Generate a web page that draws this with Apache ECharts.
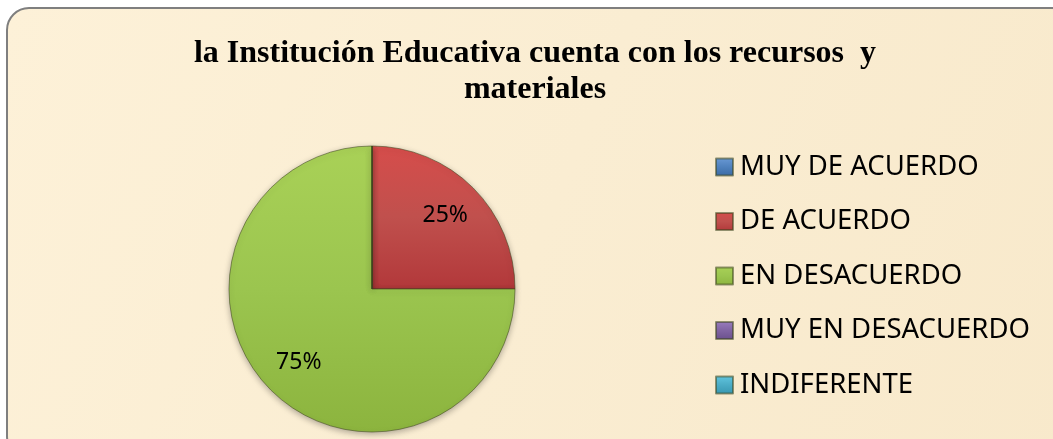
<!DOCTYPE html>
<html>
<head>
<meta charset="utf-8">
<script src="https://cdn.jsdelivr.net/npm/echarts@6/dist/echarts.min.js"></script>
<style>
  html, body { margin: 0; padding: 0; background: #fff; }
  #main { width: 1053px; height: 439px; }
</style>
</head>
<body>
<div id="main"></div>
<script>
var titleText = 'la Institución Educativa cuenta con los recursos  y\nmateriales';
var categories = ['MUY DE ACUERDO', 'DE ACUERDO', 'EN DESACUERDO', 'MUY EN DESACUERDO', 'INDIFERENTE'];
var values = [0, 25, 75, 0, 0];
var colors = ['#4f81bd', '#c0504d', '#9bc54f', '#8064a2', '#4bacc6'];
var lightColors = ['#6a9ad6', '#d64d4b', '#a9d157', '#9a7dbf', '#62c6e0'];
var darkColors = ['#3a6aa3', '#b2383a', '#8cb43e', '#6a4f8c', '#3796b0'];

var myChart = echarts.init(document.getElementById('main'));

function sliceColor(i) {
  return new echarts.graphic.LinearGradient(0, 0, 0, 1, [
    { offset: 0, color: lightColors[i] },
    { offset: 0.5, color: colors[i] },
    { offset: 1, color: darkColors[i] }
  ]);
}

var pieData = categories.map(function (name, i) {
  return { name: name, value: values[i], itemStyle: { color: sliceColor(i) } };
});

var labelData = categories.map(function (name, i) {
  return { name: name, value: values[i] };
});

var option = {
  backgroundColor: '#ffffff',
  animation: false,
  graphic: [
    {
      type: 'rect',
      z: -10,
      shape: { x: 7, y: 8, width: 1070, height: 450, r: 22 },
      style: {
        fill: new echarts.graphic.LinearGradient(0, 0, 1, 1, [
          { offset: 0, color: '#fdf1d8' },
          { offset: 0.5, color: '#faedd2' },
          { offset: 1, color: '#f8e9cb' }
        ]),
        stroke: '#7f7f7f',
        lineWidth: 2
      }
    }
  ],
  title: {
    text: titleText,
    left: 530,
    top: 31,
    textAlign: 'center',
    textStyle: {
      fontFamily: 'Liberation Serif',
      fontWeight: 'bold',
      fontSize: 32,
      lineHeight: 36,
      color: '#000'
    }
  },
  legend: {
    orient: 'vertical',
    left: 710,
    top: 148,
    itemWidth: 17,
    itemHeight: 17,
    itemGap: 26.5,
    icon: 'rect',
    data: categories,
    textStyle: {
      fontFamily: 'Noto Sans',
      fontSize: 27.5,
      lineHeight: 28,
      color: '#000',
      padding: [0, 0, 0, 2]
    }
  },
  series: [
    {
      name: 'pie',
      type: 'pie',
      center: [372, 289],
      radius: 143,
      startAngle: 90,
      clockwise: true,
      silent: true,
      label: { show: false },
      labelLine: { show: false },
      itemStyle: {
        borderColor: 'rgba(60,70,30,0.55)',
        borderWidth: 1,
        shadowColor: 'rgba(0,0,0,0.3)',
        shadowBlur: 6,
        shadowOffsetY: 2
      },
      data: pieData
    },
    {
      name: 'labels',
      type: 'pie',
      center: [372, 289],
      radius: [58, 143],
      startAngle: 90,
      clockwise: true,
      silent: true,
      legendHoverLink: false,
      itemStyle: { color: 'rgba(0,0,0,0)' },
      labelLine: { show: false },
      label: {
        show: true,
        position: 'inside',
        fontFamily: 'Noto Sans',
        fontSize: 23,
        color: '#000',
        formatter: function (p) {
          return p.value > 0 ? p.value + '%' : '';
        }
      },
      data: labelData
    }
  ]
};

myChart.setOption(option);
</script>
</body>
</html>
